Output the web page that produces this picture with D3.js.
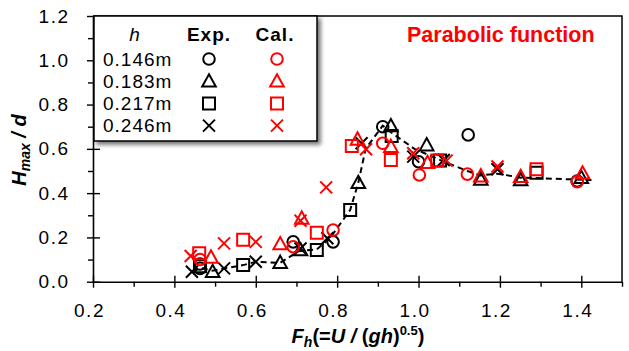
<!DOCTYPE html>
<html>
<head>
<meta charset="utf-8">
<script src="https://cdn.jsdelivr.net/npm/d3@7"></script>
<style>
  html, body { margin: 0; padding: 0; background: #fff; }
  svg { display: block; font-family: "Liberation Sans", Arial, sans-serif; }
</style>
</head>
<body>
<svg id="chart" width="629" height="351"></svg>
<script>
// Water depths of the four test series
const depths = ["0.146m", "0.183m", "0.217m", "0.246m"];
const shapes = ["circle", "triangle", "square", "cross"];

// Experimental H_max/d against F_h, one array per depth
const exp146 = [[0.463, 0.060], [0.463, 0.080], [0.692, 0.180], [0.790, 0.180], [0.912, 0.700], [1.000, 0.542], [1.122, 0.663], [1.390, 0.455]];
const exp183 = [[0.494, 0.045], [0.660, 0.086], [0.710, 0.143], [0.852, 0.447], [0.932, 0.703], [1.020, 0.617], [1.153, 0.462], [1.251, 0.459], [1.400, 0.470]];
const exp217 = [[0.463, 0.070], [0.569, 0.075], [0.750, 0.143], [0.832, 0.324], [0.934, 0.658], [1.053, 0.547], [1.290, 0.492]];
const exp246 = [[0.443, 0.045], [0.522, 0.060], [0.600, 0.090], [0.710, 0.150], [0.776, 0.196], [0.860, 0.625], [0.987, 0.565], [1.062, 0.550], [1.194, 0.508]];

// Calculated values (parabolic function)
const cal146 = [[0.463, 0.100], [0.692, 0.158], [0.790, 0.233], [0.912, 0.625], [1.002, 0.482], [1.120, 0.486], [1.390, 0.452]];
const cal183 = [[0.490, 0.110], [0.660, 0.170], [0.713, 0.286], [0.850, 0.643], [0.932, 0.610], [1.022, 0.537], [1.153, 0.477], [1.251, 0.474], [1.403, 0.490]];
const cal217 = [[0.461, 0.128], [0.569, 0.190], [0.750, 0.221], [0.836, 0.613], [0.932, 0.550], [1.046, 0.547], [1.290, 0.508]];
const cal246 = [[0.440, 0.116], [0.522, 0.173], [0.600, 0.180], [0.710, 0.275], [0.773, 0.426], [0.871, 0.598], [0.987, 0.580], [1.069, 0.547], [1.194, 0.520]];

// Dashed trend through the experimental data
const trend = [[0.445, 0.045], [0.463, 0.062], [0.494, 0.050], [0.522, 0.060], [0.569, 0.075], [0.600, 0.090], [0.660, 0.085], [0.705, 0.138], [0.750, 0.146], [0.782, 0.196], [0.832, 0.324], [0.852, 0.447], [0.870, 0.600], [0.912, 0.705], [0.932, 0.675], [0.990, 0.600], [1.050, 0.552], [1.120, 0.500], [1.153, 0.480], [1.194, 0.488], [1.251, 0.470], [1.290, 0.468], [1.425, 0.459]];

const xTicks = [0.2, 0.4, 0.6, 0.8, 1.0, 1.2, 1.4];
const xMinor = [0.3, 0.5, 0.7, 0.9, 1.1, 1.3, 1.5];
const yTicks = [0.0, 0.2, 0.4, 0.6, 0.8, 1.0, 1.2];
const yMinor = [0.1, 0.3, 0.5, 0.7, 0.9, 1.1];

const expSeries = [exp146, exp183, exp217, exp246];
const calSeries = [cal146, cal183, cal217, cal246];

const svg = d3.select("#chart");
const x = d3.scaleLinear().domain([0.2, 1.5]).range([93, 622]);
const y = d3.scaleLinear().domain([0, 1.2]).range([281.7, 16]);
const fmt = d3.format(".1f");

// Marker path generator, centred on 0,0
function markerPath(shape) {
  const p = d3.path();
  if (shape === "circle") {
    p.arc(0, 0, 5.8, 0, 2 * Math.PI);
  } else if (shape === "triangle") {
    p.moveTo(0, -7); p.lineTo(6.8, 5.3); p.lineTo(-6.8, 5.3); p.closePath();
  } else if (shape === "square") {
    p.rect(-6, -6, 12, 12);
  } else {
    p.moveTo(-6, -6); p.lineTo(6, 6); p.moveTo(6, -6); p.lineTo(-6, 6);
  }
  return p.toString();
}

// Drop shadow for the legend panel
const defs = svg.append("defs");
const f = defs.append("filter").attr("id", "shadow").attr("x", "-10%").attr("y", "-10%").attr("width", "130%").attr("height", "130%");
f.append("feDropShadow").attr("dx", 3).attr("dy", 3).attr("stdDeviation", 2).attr("flood-color", "#000").attr("flood-opacity", 0.55);

// Plot frame (top and right)
svg.append("path")
  .attr("d", `M${x(0.2)},${y(1.2)}H${x(1.5)}V${y(0)}`)
  .attr("fill", "none").attr("stroke", "#000").attr("stroke-width", 1.5);

// Axes: major ticks cross the axis line, minor ticks point outwards
function styleAxis(g) {
  g.selectAll("path.domain").attr("stroke", "#000").attr("stroke-width", 1.6);
  g.selectAll(".tick line").attr("stroke", "#000").attr("stroke-width", 1.4);
  g.selectAll("text").attr("fill", "#000").style("font-size", "19px")
    .style("letter-spacing", "1.5px")
    .style("font-family", '"Liberation Sans", Arial, sans-serif');
}

const gx = svg.append("g").attr("transform", `translate(0,${y(0)})`);
gx.call(d3.axisBottom(x).tickValues(xTicks).tickFormat(fmt).tickSize(6).tickSizeOuter(0).tickPadding(16)).call(styleAxis);
gx.selectAll(".tick text").attr("dx", -4);
svg.append("g").attr("transform", `translate(0,${y(0)})`)
  .call(d3.axisTop(x).tickValues(xTicks).tickFormat("").tickSize(6).tickSizeOuter(0)).call(styleAxis)
  .select("path.domain").remove();
svg.append("g").attr("transform", `translate(0,${y(0)})`)
  .call(d3.axisBottom(x).tickValues(xMinor).tickFormat("").tickSize(5).tickSizeOuter(0)).call(styleAxis)
  .select("path.domain").remove();

const gy = svg.append("g").attr("transform", `translate(${x(0.2)},0)`);
gy.call(d3.axisLeft(y).tickValues(yTicks).tickFormat(fmt).tickSize(6).tickSizeOuter(0).tickPadding(17.5)).call(styleAxis);
svg.append("g").attr("transform", `translate(${x(0.2)},0)`)
  .call(d3.axisRight(y).tickValues(yTicks).tickFormat("").tickSize(7).tickSizeOuter(0)).call(styleAxis)
  .select("path.domain").remove();
svg.append("g").attr("transform", `translate(${x(0.2)},0)`)
  .call(d3.axisLeft(y).tickValues(yMinor).tickFormat("").tickSize(5).tickSizeOuter(0)).call(styleAxis)
  .select("path.domain").remove();

// Trend line
svg.append("path")
  .datum(trend)
  .attr("d", d3.line().x(d => x(d[0])).y(d => y(d[1])))
  .attr("fill", "none").attr("stroke", "#000").attr("stroke-width", 2)
  .attr("stroke-dasharray", "6,4");

// Data markers: experimental in black, calculated in red
function drawSeries(series, color) {
  series.forEach((data, i) => {
    svg.append("g").selectAll("path")
      .data(data).join("path")
      .attr("transform", d => `translate(${x(d[0])},${y(d[1])})`)
      .attr("d", markerPath(shapes[i]))
      .attr("fill", "none").attr("stroke", color).attr("stroke-width", 2);
  });
}
drawSeries(expSeries, "#000");
drawSeries(calSeries, "#ff0000");

// Legend panel
const lg = svg.append("g").style("letter-spacing", "1px");
lg.append("rect").attr("x", 94).attr("y", 16).attr("width", 223).attr("height", 125)
  .attr("fill", "#fff").attr("stroke", "#000").attr("stroke-width", 1.5).attr("filter", "url(#shadow)");
lg.append("text").attr("x", 135).attr("y", 41).attr("text-anchor", "middle")
  .style("font-size", "19px").style("font-style", "italic").text("h");
lg.append("text").attr("x", 209).attr("y", 41).attr("text-anchor", "middle")
  .style("font-size", "19px").style("font-weight", "bold").text("Exp.");
lg.append("text").attr("x", 275).attr("y", 41).attr("text-anchor", "middle")
  .style("font-size", "19px").style("font-weight", "bold").text("Cal.");
depths.forEach((d, i) => {
  const cy = 59 + i * 22.2;
  lg.append("text").attr("x", 103).attr("y", cy + 6.5).style("font-size", "19px").text(d);
  lg.append("path").attr("transform", `translate(209,${cy})`).attr("d", markerPath(shapes[i]))
    .attr("fill", "none").attr("stroke", "#000").attr("stroke-width", 2);
  lg.append("path").attr("transform", `translate(277,${cy})`).attr("d", markerPath(shapes[i]))
    .attr("fill", "none").attr("stroke", "#ff0000").attr("stroke-width", 2);
});

// Method label
svg.append("text").attr("x", 407).attr("y", 41.5)
  .attr("fill", "#ff0000").style("font-size", "21.5px").style("font-weight", "bold")
  .text("Parabolic function");

// Axis titles
const xt = svg.append("text").attr("x", 358).attr("y", 343).attr("text-anchor", "middle")
  .style("font-size", "20px").style("font-weight", "bold");
xt.append("tspan").style("font-style", "italic").text("F");
xt.append("tspan").style("font-style", "italic").style("font-size", "14px").attr("dy", 4).text("h");
xt.append("tspan").attr("dy", -4).text("(=");
xt.append("tspan").style("font-style", "italic").text("U / ");
xt.append("tspan").text("(");
xt.append("tspan").style("font-style", "italic").text("gh");
xt.append("tspan").text(")");
xt.append("tspan").style("font-size", "13px").attr("dy", -8).text("0.5");
xt.append("tspan").attr("dy", 8).text(")");

const yt = svg.append("text").attr("transform", "translate(26,150) rotate(-90)").attr("text-anchor", "middle")
  .style("font-size", "20px").style("font-weight", "bold").style("font-style", "italic");
yt.append("tspan").text("H");
yt.append("tspan").style("font-size", "14px").attr("dy", 4).text("max");
yt.append("tspan").attr("dy", -4).text(" / d");
</script>
</body>
</html>
